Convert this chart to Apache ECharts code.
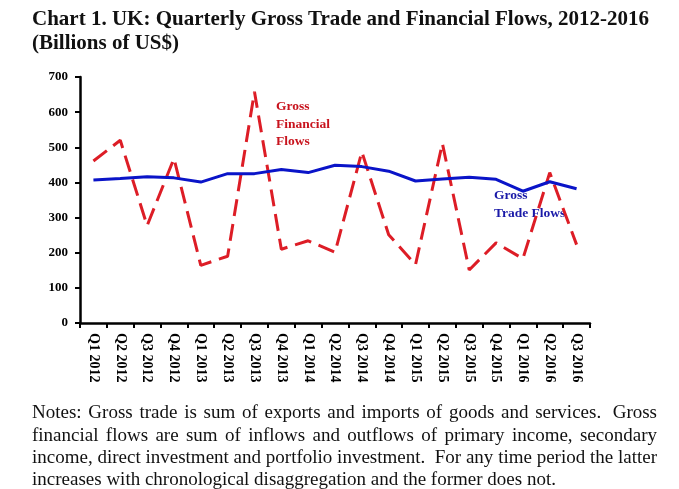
<!DOCTYPE html>
<html>
<head>
<meta charset="utf-8">
<script src="https://cdn.jsdelivr.net/npm/echarts@6/dist/echarts.min.js"></script>
<style>
  html, body { margin: 0; padding: 0; background: #fff; }
  #container { width: 679px; height: 489px; }
</style>
</head>
<body>
<div id="container"></div>
<script>
// quarters on the x axis
var categories = ['Q1 2012', 'Q2 2012', 'Q3 2012', 'Q4 2012', 'Q1 2013', 'Q2 2013', 'Q3 2013', 'Q4 2013',
  'Q1 2014', 'Q2 2014', 'Q3 2014', 'Q4 2014', 'Q1 2015', 'Q2 2015', 'Q3 2015', 'Q4 2015',
  'Q1 2016', 'Q2 2016', 'Q3 2016'];
// billions of US$
var financialFlows = [461, 520, 277, 468, 164, 190, 658, 210, 234, 201, 487, 251, 166, 511, 151, 228, 183, 428, 223];
var tradeFlows = [407, 411, 416, 413, 401, 425, 425, 437, 428, 449, 445, 432, 404, 410, 415, 409, 375, 402, 382];
var yTicks = [0, 100, 200, 300, 400, 500, 600, 700];

var titleLines = ['Chart 1. UK: Quarterly Gross Trade and Financial Flows, 2012-2016', '(Billions of US$)'];
var noteLines = [
  'Notes: Gross trade is sum of exports and imports of goods and services.  Gross',
  'financial flows are sum of inflows and outflows of primary income, secondary',
  'income, direct investment and portfolio investment.  For any time period the latter',
  'increases with chronological disaggregation and the former does not.'
];

var serif = '"Liberation Serif", "Times New Roman", serif';
var noteFont = '19px ' + serif;

// justify the notes like the original text block
var measureCtx = document.createElement('canvas').getContext('2d');
measureCtx.font = noteFont;
function justifyLine(line, y, left, right, last) {
  var parts = line.split(/( +)/);
  var words = [], seps = [];
  for (var i = 0; i < parts.length; i++) {
    if (i % 2 === 0) words.push(parts[i]); else seps.push(parts[i].length);
  }
  var space = measureCtx.measureText(' ').width;
  var total = 0;
  words.forEach(function (w) { total += measureCtx.measureText(w).width; });
  var extra = 0;
  seps.forEach(function (s) { extra += (s - 1) * space; });
  var gap = last ? space : (right - left - total - extra) / seps.length;
  var out = [], x = left;
  words.forEach(function (w, k) {
    out.push({ type: 'text', left: x, top: y, style: { text: w, font: noteFont, fill: '#111' } });
    x += measureCtx.measureText(w).width;
    if (k < seps.length) x += gap + (seps[k] - 1) * space;
  });
  return out;
}

var graphics = [];
titleLines.forEach(function (t, i) {
  graphics.push({ type: 'text', left: 32, top: 9 + i * 24,
    style: { text: t, font: 'bold 21px ' + serif, fill: '#111' } });
});
noteLines.forEach(function (l, i) {
  graphics = graphics.concat(justifyLine(l, 404 + i * 22.3, 32, 657, i === noteLines.length - 1));
});
// series annotations
['Gross', 'Financial', 'Flows'].forEach(function (t, i) {
  graphics.push({ type: 'text', left: 276, top: 100 + i * 17.5,
    style: { text: t, font: 'bold 13.5px ' + serif, fill: '#c8141e' } });
});
['Gross', 'Trade Flows'].forEach(function (t, i) {
  graphics.push({ type: 'text', left: 494, top: 189 + i * 17.5,
    style: { text: t, font: 'bold 13.5px ' + serif, fill: '#1a1aa8', align: 'center' } });
});

var dom = document.getElementById('container');
var myChart = echarts.init(dom);
var option = {
  animation: false,
  backgroundColor: '#fff',
  grid: { left: 80, right: 89, top: 77, bottom: 166 },
  xAxis: {
    type: 'category',
    data: categories,
    boundaryGap: true,
    axisLine: { lineStyle: { color: '#000', width: 2.5 } },
    axisTick: { show: true, length: 5, lineStyle: { color: '#000', width: 2 } },
    axisLabel: {
      interval: 0, rotate: -90, margin: 10,
      fontFamily: serif, fontSize: 14, fontWeight: 'bold', color: '#000'
    }
  },
  yAxis: {
    type: 'value',
    min: yTicks[0],
    max: yTicks[yTicks.length - 1],
    interval: 100,
    splitLine: { show: false },
    axisLine: { show: true, lineStyle: { color: '#000', width: 2.5 } },
    axisTick: { show: true, length: 5, lineStyle: { color: '#000', width: 2 } },
    axisLabel: { margin: 12, fontFamily: serif, fontSize: 13, fontWeight: 'bold', color: '#000' }
  },
  series: [
    {
      name: 'Gross Financial Flows',
      type: 'line',
      data: financialFlows,
      symbol: 'none',
      lineStyle: { color: '#dd1d26', width: 3, type: [17, 8] }
    },
    {
      name: 'Gross Trade Flows',
      type: 'line',
      data: tradeFlows,
      symbol: 'none',
      lineStyle: { color: '#0a14c8', width: 3 }
    }
  ],
  graphic: graphics
};
myChart.setOption(option, true);
</script>
</body>
</html>
